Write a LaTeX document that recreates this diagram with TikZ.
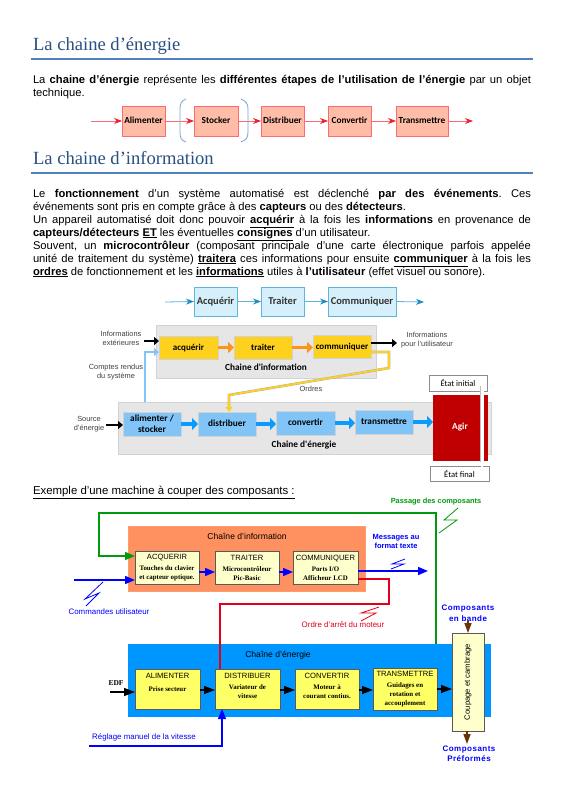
\documentclass[tikz,border=0pt]{standalone}
\usepackage{fontspec}
\setmainfont{Liberation Sans}
\newfontfamily\titlef{Liberation Serif}
\newfontfamily\serifb{Liberation Serif}
\newfontfamily\carl{Carlito}
\usetikzlibrary{arrows.meta,calc}
\definecolor{titleblue}{HTML}{2A5082}
\definecolor{rulec}{HTML}{4F81BD}
\definecolor{redfill}{HTML}{FFBDA8}
\definecolor{redline}{HTML}{FF6A70}
\definecolor{redtip}{HTML}{F02035}
\definecolor{cyanfill}{HTML}{D6F0FB}
\definecolor{cyanline}{HTML}{5FB5DA}
\definecolor{cyantip}{HTML}{1B8DC0}
\definecolor{panel}{HTML}{E6E6E6}
\definecolor{panelb}{HTML}{D2D2D2}
\definecolor{gold}{HTML}{FFD11F}
\definecolor{orangear}{HTML}{FF9317}
\definecolor{skyb}{HTML}{80C4F8}
\definecolor{bluear}{HTML}{0B9BFF}
\definecolor{agirred}{HTML}{C00000}
\definecolor{orpanel}{HTML}{FF9060}
\definecolor{bluepanel}{HTML}{0096FF}
\definecolor{paleY}{HTML}{FFFFCC}
\definecolor{brightY}{HTML}{FFFF66}
\definecolor{greenl}{HTML}{009A0F}
\definecolor{redl}{HTML}{E0001B}
\definecolor{brownl}{HTML}{6B3300}
\definecolor{brack}{HTML}{7BA3D0}
\frenchspacing
\newcommand{\bx}[7]{\node[#1,minimum width={#5-#3},minimum height={#6-#4}] (#2) at ({(#3+#5)/2},{(#4+#6)/2}) {#7};}
\newcommand{\jline}[3]{\node[textline] (#1) at (33,#2) {\makebox[498pt][s]{#3}};}
\newcommand{\pline}[3]{\node[textline] (#1) at (33,#2) {#3};}
\tikzset{
 every node/.style={inner sep=0pt,outer sep=0pt},
 textline/.style={anchor=base west,font=\fontsize{11.2}{13}\selectfont},
 heading/.style={anchor=base west,text=titleblue,font=\titlef\fontsize{18.6}{20}\selectfont},
 oneline/.style={text height=7pt,text depth=2pt},
 redbox/.style={oneline,draw=redline,fill=redfill,line width=.8pt,font=\carl\bfseries\fontsize{9.3}{11}\selectfont},
 redarrow/.style={draw=redline,line width=.8pt,-{Stealth[length=8pt,width=6pt,color=redtip]}},
 cyanbox/.style={oneline,draw=cyanline,fill=cyanfill,line width=.8pt,font=\carl\bfseries\fontsize{10.5}{12}\selectfont,text=black!80},
 cyanarrow/.style={draw=cyanline,line width=.8pt,-{Stealth[length=8pt,width=6pt,color=cyantip]}},
 panelbox/.style={draw=panelb,fill=panel,line width=.6pt},
 goldbox/.style={oneline,draw=panelb,fill=gold,line width=.5pt,font=\carl\bfseries\fontsize{9}{11}\selectfont},
 skybox/.style={draw=panelb,fill=skyb,line width=.5pt,font=\carl\bfseries\fontsize{9.3}{11.5}\selectfont,align=center},
 thickor/.style={draw=orangear,line width=3.5pt,-{Triangle[length=6pt,width=11pt]}},
 thickblue/.style={draw=bluear,line width=4pt,-{Triangle[length=6pt,width=12pt]}},
 blk/.style={draw=black,line width=1.8pt,-{Triangle[length=5pt,width=8pt]}},
 smalltxt/.style={align=center,text=black!75,font=\fontsize{7.4}{9}\selectfont},
 etat/.style={draw=black!45,fill=white,line width=.6pt,font=\carl\fontsize{8.5}{10}\selectfont},
 orpan/.style={fill=orpanel,draw=orpanel!90!white,line width=.5pt},
 blpan/.style={fill=bluepanel,draw=bluepanel,line width=.5pt},
 lowbox/.style={draw=black!65,line width=.7pt,align=center,anchor=center,font=\fontsize{7}{9}\selectfont},
 paleb/.style={lowbox,fill=paleY},
 brightb/.style={lowbox,fill=brightY},
 lowlbl/.style={font=\fontsize{7.9}{9}\selectfont,text=blue,align=center},
 bandlbl/.style={align=center,text=blue,font=\addfontfeatures{LetterSpace=6}\bfseries\fontsize{8}{10.5}\selectfont},
 blueA/.style={draw=blue,line width=1.5pt,-{Triangle[length=10pt,width=8pt]}},
 blackA/.style={draw=black,line width=1.3pt,-{Triangle[length=11pt,width=8pt]}},
 brownA/.style={draw=brownl,line width=1.5pt,-{Triangle[length=10pt,width=7pt]}},
}
\newcommand{\ltt}[1]{{\fontsize{7.6}{9}\selectfont #1}}
\newcommand{\lss}[1]{{\serifb\bfseries\fontsize{6.9}{9}\selectfont #1}}
\begin{document}
\begin{tikzpicture}[x=1pt,y=-1pt]
\useasboundingbox (0,0) rectangle (565,800);
\fill[white] (0,0) rectangle (565,800);
% headings
\node[heading] (h1) at (33,50.7) {La chaine d’énergie};
\coordinate (r1a) at (31,59); \coordinate (r1b) at (533,59);
\draw[rulec,line width=1.2pt] (r1a) -- (r1b);
\jline{t1}{83.3}{La \textbf{chaine d’énergie} représente les \textbf{différentes étapes de l’utilisation de l’énergie} par un objet}
\pline{t2}{96}{technique.}
% top chain
\coordinate (e0) at (91,121); \coordinate (e1) at (473,121);
\bx{redbox}{alim}{122}{106}{165}{136}{Alimenter}
\bx{redbox}{stoc}{194}{106}{238}{136}{Stocker}
\bx{redbox}{dist}{261}{106}{304}{136}{Distribuer}
\bx{redbox}{conv}{328}{106}{371}{136}{Convertir}
\bx{redbox}{tran}{396}{106}{448}{136}{Transmettre}
\draw[redarrow] (e0) -- (alim.west);
\draw[redarrow] (alim.east) -- (stoc.west);
\draw[redarrow] (stoc.east) -- (dist.west);
\draw[redarrow] (dist.east) -- (conv.west);
\draw[redarrow] (conv.east) -- (tran.west);
\draw[redarrow] (tran.east) -- (e1);
\draw[brack,line width=.8pt] (186,99) .. controls (181,101) and (180,104) .. (180,109) -- (180,132) .. controls (180,138) and (181,140) .. (186,142);
\draw[brack,line width=.8pt] (241,99) .. controls (246,101) and (248,104) .. (248,109) -- (248,132) .. controls (248,138) and (246,140) .. (241,142);
\node[heading] (h2) at (33,164.3) {La chaine d’information};
\coordinate (r2a) at (31,173); \coordinate (r2b) at (533,173);
\draw[rulec,line width=1.2pt] (r2a) -- (r2b);
% paragraph
\jline{p1}{197.3}{Le \textbf{fonctionnement} d’un système automatisé est déclenché \textbf{par des événements}. Ces}
\pline{p2}{210.2}{événements sont pris en compte grâce à des \textbf{capteurs} ou des \textbf{détecteurs}.}
\jline{p3}{223.2}{Un appareil automatisé doit donc pouvoir \textbf{\underline{acquérir}} à la fois les \textbf{informations} en provenance de}
\pline{p4}{236.1}{\textbf{capteurs/détecteurs} \textbf{\underline{ET}} les éventuelles \textbf{\underline{consignes}} d’un utilisateur.}
\jline{p5}{249}{Souvent, un \textbf{microcontrôleur} (composant principale d’une carte électronique parfois appelée}
\jline{p6}{262}{unité de traitement du système) \textbf{\underline{traitera}} ces informations pour ensuite \textbf{\underline{communiquer}} à la fois les}
\pline{p7}{275}{\textbf{\underline{ordres}} de fonctionnement et les \textbf{\underline{informations}} utiles à \textbf{l’utilisateur} (effet visuel ou sonore).}
% cyan chain
\coordinate (c0) at (165,302); \coordinate (c1) at (424,302);
\bx{cyanbox}{ca}{194}{287}{237}{316}{Acquérir}
\bx{cyanbox}{ct}{261}{287}{304}{316}{Traiter}
\bx{cyanbox}{cc}{328}{287}{396}{316}{Communiquer}
\draw[cyanarrow] (c0) -- (ca.west);
\draw[cyanarrow] (ca.east) -- (ct.west);
\draw[cyanarrow] (ct.east) -- (cc.west);
\draw[cyanarrow] (cc.east) -- (c1);
% middle diagram
\bx{panelbox}{pinfo}{156}{325}{376}{378}{}
\bx{panelbox}{pener}{118}{402}{491}{454}{}
\bx{goldbox}{aq}{159}{336}{218}{359}{acquérir}
\bx{goldbox}{tr}{234}{336}{292}{359}{traiter}
\bx{goldbox}{co}{313}{335}{371}{358}{communiquer}
\draw[thickor] (aq.east) -- (tr.west);
\draw[thickor] (tr.east) -- (co.west|-tr.east);
\node[font=\carl\bfseries\fontsize{9.3}{11}\selectfont] (lci) at (266,367) {Chaine d'information};
\bx{skybox}{al}{123}{412}{181}{436}{alimenter /\\stocker}
\bx{skybox,oneline}{di}{198}{412}{256}{436}{distribuer}
\bx{skybox,oneline}{cv}{276}{411}{335}{435}{convertir}
\bx{skybox,oneline}{tm}{355}{410}{413}{434}{transmettre}
\bx{skybox,draw=agirred,fill=agirred,text=white}{ag}{433}{395}{487}{460}{Agir}
\draw[thickblue] (al.east) -- (di.west);
\draw[thickblue] (di.east) -- (cv.west|-di.east);
\draw[thickblue] (cv.east) -- (tm.west|-cv.east);
\draw[thickblue] (tm.east) -- (ag.west|-tm.east);
\node[font=\carl\bfseries\fontsize{9.3}{11}\selectfont] (lce) at (304,445) {Chaine d'énergie};
\node[smalltxt] (ie) at (121,338.5) {Informations\\extérieures};
\node[smalltxt] (cr) at (116,372.5) {Comptes rendus\\du système};
\node[smalltxt] (se) at (89,424.5) {Source\\d'énergie};
\node[smalltxt] (iu) at (427,340.5) {Informations\\pour l'utilisateur};
\node[smalltxt] (ord) at (311,389) {Ordres};
\coordinate (k1) at (144,341); \coordinate (k2) at (106,425); \coordinate (k3) at (397,343);
\draw[blk] (k1) -- (aq.west|-k1);
\draw[blk] (k2) -- (al.west|-k2);
\draw[blk] (co.east|-k3) -- (k3);
\coordinate (sk0) at (145,402); \coordinate (sk1) at (145,352);
\draw[draw=skyb,line width=1.6pt,-{Triangle[length=5pt,width=8pt]}] (sk0) -- (sk1) -- (aq.west|-sk1);
\coordinate (g0) at (371,352); \coordinate (g1) at (389,352); \coordinate (g2) at (389,368); \coordinate (g3) at (229,395);
\draw[draw=black!30,line width=2.6pt,line join=miter] (g0) -- (g1) -- (g2) -- (g3) -- (229,408);
\draw[draw=gold,line width=1.8pt,-{Triangle[length=5pt,width=7pt]},line join=miter] (g0) -- (g1) -- (g2) -- (g3) -- (di.north-|g3);
\bx{etat}{ei}{429}{375}{487}{391}{État initial}
\bx{etat}{ef}{430}{466}{489}{481}{État final}
\coordinate (w0) at (482,386); \coordinate (w1) at (482,468);
\draw[draw=black!25,line width=.5pt,fill=white] (480.5,386) rectangle (483.5,463);
\draw[draw=white,line width=3pt,-{Triangle[length=6pt,width=7pt]}] (w0) -- (w1);
% example
\node[textline,font=\fontsize{11.4}{13}\selectfont] (ex) at (33,494) {\underline{Exemple d’une machine à couper des composants :}};
% lower diagram
\bx{orpan}{po}{128}{526}{365}{591}{}
\bx{blpan}{pb}{128}{644}{490}{716}{}
\node[font=\fontsize{8.6}{10}\selectfont] (lo) at (247,536) {Chaîne d'information};
\node[font=\fontsize{8.6}{10}\selectfont] (lb) at (278,655) {Chaîne d'énergie};
\bx{paleb}{A}{135}{551}{199}{584}{\ltt{ACQUERIR}\\[2pt]\lss{Touches du clavier}\\\lss{et capteur optique.}}
\bx{paleb}{T}{215}{551}{279}{584}{\ltt{TRAITER}\\[2pt]\lss{Microcontrôleur}\\\lss{Pic-Basic}}
\bx{paleb}{C}{293}{551}{358}{584}{\ltt{COMMUNIQUER}\\[2pt]\lss{Ports I/O}\\\lss{Afficheur LCD}}
\bx{brightb}{Al}{135}{669}{200}{709}{\ltt{ALIMENTER}\\[4pt]\lss{Prise secteur}\\[4pt]\mbox{}}
\bx{brightb}{Di}{215}{669}{280}{709}{\ltt{DISTRIBUER}\\[2pt]\lss{Variateur de}\\\lss{vitesse}\\[-2pt]\mbox{}}
\bx{brightb}{Co}{295}{669}{359}{709}{\ltt{CONVERTIR}\\[2pt]\lss{Moteur à}\\\lss{courant contius.}\\[-2pt]\mbox{}}
\bx{brightb}{Tr}{373}{668}{437}{710}{\ltt{TRANSMETTRE}\\[2pt]\lss{Guidages en}\\\lss{rotation et}\\\lss{accouplement}}
\bx{paleb}{Cp}{452}{633}{484}{731}{}
\node[rotate=90,font=\fontsize{7.7}{9}\selectfont] (cpt) at (Cp) {Coupage et cambrage};
% connectors
\coordinate (q1) at (436,644); \coordinate (q2) at (436,513); \coordinate (q3) at (99,513); \coordinate (q4) at (99,556);
\draw[draw=greenl,line width=1.6pt,-{Triangle[length=10pt,width=8pt]},line join=miter] (q1) -- (q2) -- (q3) -- (q4) -- (A.west|-q4);
\coordinate (b0) at (74,580);
\draw[blueA] (b0) -- (A.west|-b0);
\coordinate (tA) at (199,572); \coordinate (tT) at (279,572);
\draw[blueA] (tA) -- (T.west|-tA);
\draw[blueA] (tT) -- (C.west|-tT);
\coordinate (m1) at (428,571);
\draw[blueA] (C.east|-m1) -- (m1);
\coordinate (rr0) at (358,579); \coordinate (rr1) at (389,579); \coordinate (rr2) at (389,604); \coordinate (rr3) at (220,604);
\draw[draw=redl,line width=1.4pt,line join=miter] (rr0) -- (rr1) -- (rr2) -- (rr3) -- (Di.north-|rr3);
\coordinate (ed) at (110,692);
\draw[blackA] (ed) -- (Al.west|-ed);
\coordinate (kk) at (200,690);
\draw[blackA] (kk) -- (Di.west|-kk);
\coordinate (kl) at (280,690);
\draw[blackA] (kl) -- (Co.west|-kl);
\coordinate (km) at (359,690);
\draw[blackA] (km) -- (Tr.west|-km);
\coordinate (kn) at (437,689);
\draw[blackA] (kn) -- (Cp.west|-kn);
\coordinate (rg0) at (89,746); \coordinate (rg1) at (222,746);
\draw[blueA,line width=1.3pt,line join=miter] (rg0) -- (rg1) -- (Di.south-|rg1);
\node[font=\serifb\bfseries\fontsize{7.5}{9}\selectfont] (edf) at (116,683) {EDF};
\node[lowlbl] (cu) at (109,612) {Commandes utilisateur};
\node[lowlbl,font=\bfseries\fontsize{7.5}{9}\selectfont] (mf) at (396,541.5) {Messages au\\format texte};
\node[lowlbl,text=redl] (oa) at (343,625) {Ordre d'arrêt du moteur};
\node[lowlbl,text=greenl,font=\bfseries\fontsize{7.4}{9}\selectfont] (pc) at (436,502) {Passage des composants};
\node[lowlbl] (rv) at (144,737) {Réglage manuel de la vitesse};
\node[bandlbl] (cb) at (468,613) {Composants\\en bande};
\node[bandlbl] (cf) at (469,753.5) {Composants\\Préformés};
\draw[brownA] (cb.south-|Cp) -- (Cp.north);
\coordinate (bf) at (467,744);
\draw[brownA] (Cp.south-|bf) -- (bf);
% lightnings
\draw[blue,line width=.8pt] (103,582) -- (85,599) -- (99,593) -- (86,606);
\draw[blue,line width=.8pt] (405,559) -- (392,564) -- (404,564) -- (391,569);
\draw[redl,line width=.8pt] (379,607) -- (361,613) -- (376,613) -- (361,621);
\draw[greenl,line width=.8pt] (458,508) -- (444,520) -- (457,520) -- (439,533);
\end{tikzpicture}
\end{document}
